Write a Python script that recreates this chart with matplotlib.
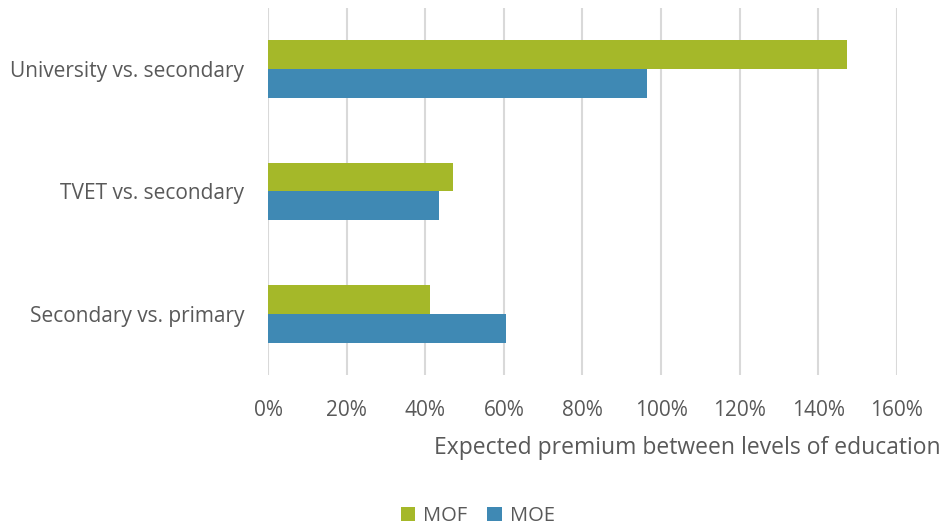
import matplotlib
matplotlib.use("Agg")
import matplotlib.pyplot as plt
import numpy as np
from matplotlib.ticker import PercentFormatter

categories = ["University vs. secondary", "TVET vs. secondary", "Secondary vs. primary"]
mof = [147.3, 47.0, 41.1]
moe = [96.4, 43.5, 60.6]
xticks = [0, 20, 40, 60, 80, 100, 120, 140, 160]

plt.rcParams['font.family'] = ['Open Sans', 'DejaVu Sans']
text_color = '#595959'
green = '#A5B829'
blue = '#3F89B4'

fig = plt.figure(figsize=(9.46, 5.29), dpi=100)
ax = fig.add_axes([0.2833, 0.291, 0.9482 - 0.2833, 0.985 - 0.291])

y = np.arange(len(categories))
h = 0.236
ax.barh(y - h / 2, mof, height=h, color=green, label='MOF', zorder=3)
ax.barh(y + h / 2, moe, height=h, color=blue, label='MOE', zorder=3)

ax.set_ylim(2.5, -0.5)
ax.set_xlim(0, 160)
ax.set_yticks(y)
ax.set_yticklabels(categories)
ax.set_xticks(xticks)
ax.xaxis.set_major_formatter(PercentFormatter(decimals=0))
ax.tick_params(axis='y', length=0, labelsize=15, labelcolor=text_color, pad=17)
ax.tick_params(axis='x', length=0, labelsize=15, labelcolor=text_color, pad=18)
ax.grid(axis='x', color='#D9D9D9', linewidth=1.5, zorder=0)
for s in ax.spines.values():
    s.set_visible(False)

ax.set_xlabel('Expected premium between levels of education', fontsize=16.5,
              color=text_color, labelpad=11, loc='right')
ax.xaxis.label.set_x(1.07)

fig.legend(loc='center', bbox_to_anchor=(0.505, 0.025), ncol=2, frameon=False,
           fontsize=14.5, labelcolor=text_color, handlelength=0.7, handleheight=0.7,
           handletextpad=0.4, columnspacing=1.0)

fig.savefig('out.png', dpi=100)
